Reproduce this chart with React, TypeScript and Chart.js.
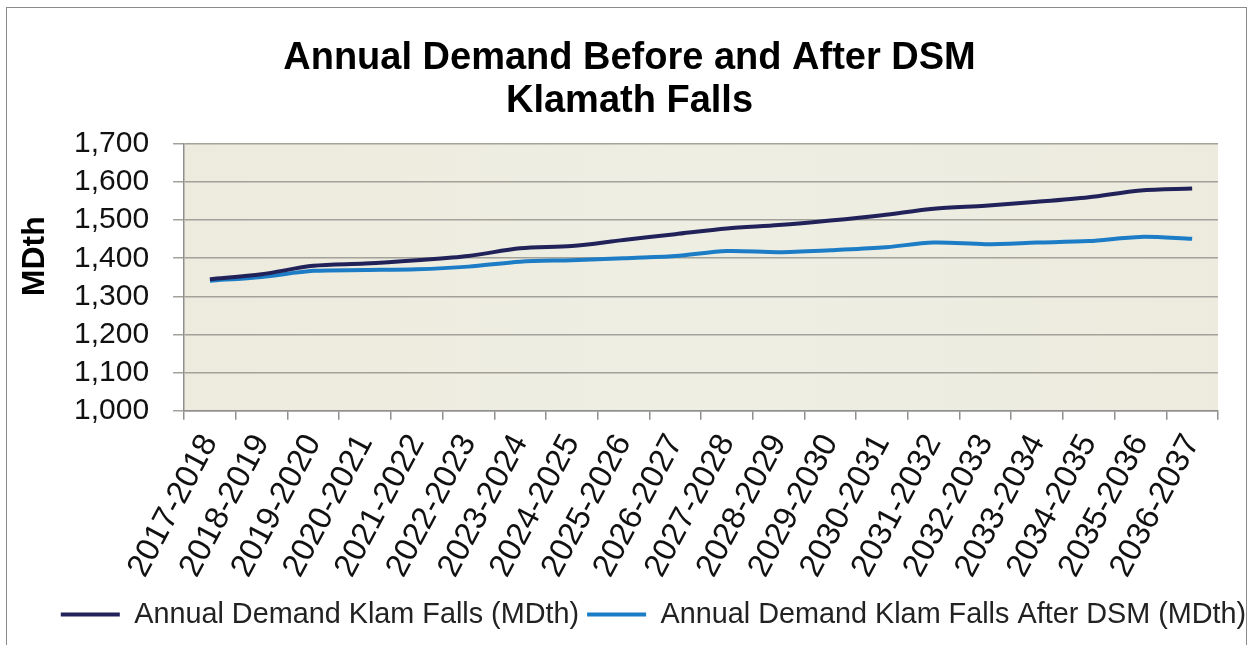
import React, { useEffect, useRef } from "react";
import { Chart, registerables } from "chart.js";

Chart.register(...registerables);

const categories = [
  "2017-2018", "2018-2019", "2019-2020", "2020-2021", "2021-2022",
  "2022-2023", "2023-2024", "2024-2025", "2025-2026", "2026-2027",
  "2027-2028", "2028-2029", "2029-2030", "2030-2031", "2031-2032",
  "2032-2033", "2033-2034", "2034-2035", "2035-2036", "2036-2037",
];

const demandBefore = [
  1345, 1358, 1380, 1386, 1395, 1406, 1426, 1432, 1448, 1463,
  1478, 1487, 1499, 1513, 1530, 1538, 1548, 1560, 1578, 1583,
];

const demandAfter = [
  1341, 1351, 1367, 1369, 1371, 1378, 1391, 1395, 1400, 1406,
  1419, 1416, 1421, 1428, 1441, 1437, 1441, 1445, 1456, 1451,
];

const yTicks = { min: 1000, max: 1700, step: 100 };

const titleLines = ["Annual Demand Before and After DSM", "Klamath Falls"];
const seriesNames = [
  "Annual Demand Klam Falls (MDth)",
  "Annual Demand Klam Falls After DSM (MDth)",
];
const yAxisTitle = "MDth";

const FONT = "'Liberation Sans', Arial, sans-serif";

const plotBg = {
  id: "plotBg",
  beforeDraw(chart: any) {
    const { ctx, chartArea } = chart;
    if (!chartArea) return;
    ctx.save();
    const g = ctx.createLinearGradient(chartArea.left, 0, chartArea.right, 0);
    g.addColorStop(0, "#ECEBDD");
    g.addColorStop(0.5, "#EFEEE3");
    g.addColorStop(1, "#ECEBDE");
    ctx.fillStyle = g;
    ctx.fillRect(chartArea.left, chartArea.top, chartArea.right - chartArea.left, chartArea.bottom - chartArea.top);
    ctx.restore();
  },
};

// y-axis title placed like the original (above the axis middle)
const yTitle = {
  id: "yTitle",
  afterDraw(chart: any) {
    const { ctx, chartArea } = chart;
    ctx.save();
    ctx.translate(35, (chartArea.top + chartArea.bottom) / 2 - 21);
    ctx.rotate(-Math.PI / 2);
    ctx.font = `bold 32px ${FONT}`;
    ctx.fillStyle = "#000";
    ctx.textAlign = "center";
    ctx.textBaseline = "middle";
    ctx.fillText(yAxisTitle, 0, 0);
    ctx.restore();
  },
};

// horizontal nudges of the title and legend boxes (layout only)
const boxShift = {
  id: "boxShift",
  afterLayout(chart: any) {
    const t = chart.titleBlock;
    if (t) {
      t.left += 14;
      t.right += 14;
    }
    const l = chart.legend;
    if (l) {
      l.left += 38;
      l.right += 38;
    }
  },
};

export default function App() {
  const ref = useRef<HTMLCanvasElement>(null);

  useEffect(() => {
    if (!ref.current) return;
    const chart = new Chart(ref.current, {
      type: "line",
      data: {
        labels: categories,
        datasets: [
          {
            label: seriesNames[0],
            data: demandBefore,
            borderColor: "#22225A",
            backgroundColor: "#22225A",
            borderWidth: 4,
            pointRadius: 0,
            tension: 0.3,
            fill: false,
          },
          {
            label: seriesNames[1],
            data: demandAfter,
            borderColor: "#1C7DC6",
            backgroundColor: "#1C7DC6",
            borderWidth: 4,
            pointRadius: 0,
            tension: 0.3,
            fill: false,
          },
        ],
      },
      plugins: [plotBg, boxShift, yTitle],
      options: {
        animation: false,
        responsive: false,
        maintainAspectRatio: false,
        layout: { padding: { left: 13, right: 32, top: 37, bottom: 6 } },
        plugins: {
          title: {
            display: true,
            text: titleLines,
            color: "#000",
            font: { family: FONT, size: 38, weight: "bold", lineHeight: 1.13 },
            padding: { top: 0, bottom: 21 },
          },
          legend: {
            position: "bottom",
            labels: {
              color: "#222",
              font: { family: FONT, size: 28.8 },
              boxWidth: 59,
              boxHeight: 4,
              padding: 8,
              generateLabels(chart: any) {
                const items = Chart.defaults.plugins.legend.labels.generateLabels(chart);
                return items.map((it: any) => ({ ...it, lineWidth: 0 }));
              },
            },
          },
          tooltip: { enabled: false },
        },
        scales: {
          x: {
            offset: true,
            grid: {
              offset: true,
              drawOnChartArea: false,
              drawTicks: true,
              tickLength: 9,
              color: "#8F8F8F",
              lineWidth: 1.5,
            },
            border: { color: "#8F8F8F", width: 1.5 },
            ticks: {
              color: "#111",
              font: { family: FONT, size: 32.5, lineHeight: 1.0 },
              minRotation: 62,
              maxRotation: 62,
              autoSkip: false,
              padding: 10,
            },
          },
          y: {
            min: yTicks.min,
            max: yTicks.max,
            afterFit(scale: any) {
              scale.width += 37;
            },
            grid: {
              color: "#A3A19A",
              lineWidth: 1.5,
              tickLength: 11,
            },
            border: { color: "#8F8F8F", width: 1.5 },
            ticks: {
              stepSize: yTicks.step,
              autoSkip: false,
              color: "#111",
              font: { family: FONT, size: 30 },
              padding: 24,
            },
            title: { display: false },
          },
        },
      },
    });
    return () => chart.destroy();
  }, []);

  return (
    <div style={{ position: "absolute", left: 0, top: 0, width: 1250, height: 645, background: "#fff" }}>
      <div
        style={{
          position: "absolute",
          left: 6,
          top: 7,
          width: 1241,
          height: 640,
          border: "1px solid #8a8a8a",
          boxSizing: "border-box",
        }}
      />
      <canvas ref={ref} width={1250} height={645} style={{ position: "absolute", left: 0, top: 0 }} />
    </div>
  );
}
